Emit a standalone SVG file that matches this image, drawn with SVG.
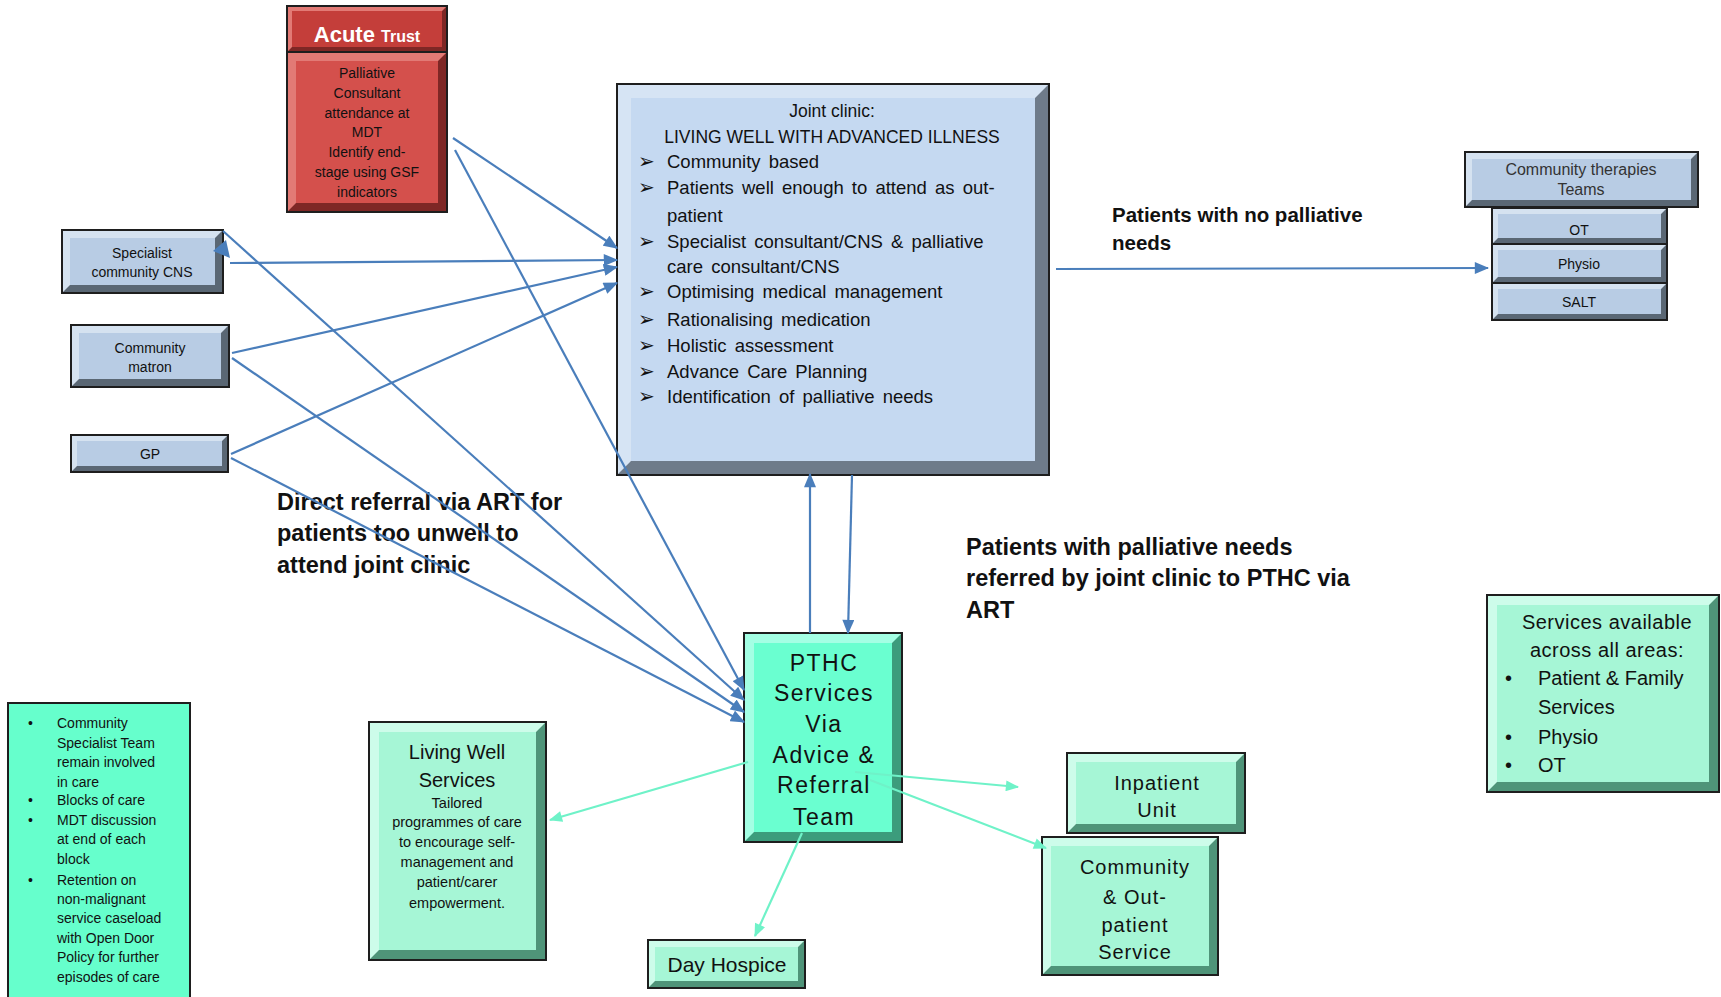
<svg xmlns="http://www.w3.org/2000/svg" width="1721" height="997" viewBox="0 0 1721 997">
<defs>
<style>
text{font-family:"Liberation Sans",Arial,sans-serif;fill:#111;}
.c{text-anchor:middle;}
.ol{fill:none;stroke:#1e1e1e;stroke-width:2;}
.bd{fill:#5A6774;} .bl{fill:#D5E2F0;} .bm{fill:#B8CCE4;}
.jd{fill:#6E7B8A;} .jl{fill:#D6E4F4;} .jm{fill:#C5D9F1;}
.rd{fill:#7E2725;} .rl{fill:#E27A75;} .rm{fill:#D4504C;} .rh{fill:#C43E3A;}
.gd{fill:#3C9C7C;} .gl{fill:#A4FFE4;} .gm{fill:#6AFFD0;}
.ld{fill:#4F9479;} .ll{fill:#CDFCEA;} .lm{fill:#A6F6D6;}
.bline{stroke:#4A7EBB;stroke-width:2.2;fill:none;marker-end:url(#ab);}
.gline{stroke:#6FF2C8;stroke-width:2.2;fill:none;marker-end:url(#ag);}
.big{font-weight:bold;font-size:23.5px;}
.bul{font-family:"DejaVu Sans",sans-serif;font-size:20px;}
</style>
<marker id="ab" viewBox="0 0 12 10" refX="11" refY="5" markerWidth="15" markerHeight="12" markerUnits="userSpaceOnUse" orient="auto"><path d="M0,0 L12,5 L0,10 z" fill="#4A7EBB"/></marker>
<marker id="ag" viewBox="0 0 12 10" refX="11" refY="5" markerWidth="14" markerHeight="11" markerUnits="userSpaceOnUse" orient="auto"><path d="M0,0 L12,5 L0,10 z" fill="#6FF2C8"/></marker>
</defs>
<rect width="1721" height="997" fill="#fff"/>

<g id="acute-trust">
<rect class="rd" x="287" y="6" width="160" height="46"/>
<polygon class="rl" points="287,6 447,6 442,11 292,11 292,47 287,52"/>
<rect class="rh" x="292" y="11" width="150" height="36"/>
<rect class="ol" x="287" y="6" width="160" height="46"/>
<text class="c" x="367" y="42" style="fill:#fff;font-weight:bold;font-size:22px">Acute <tspan style="font-size:16px">Trust</tspan></text>
<rect class="rd" x="287" y="52" width="160" height="160"/>
<polygon class="rl" points="287,52 447,52 438,61 296,61 296,203 287,212"/>
<rect class="rm" x="296" y="61" width="142" height="142"/>
<rect class="ol" x="287" y="52" width="160" height="160"/>
<text class="c" font-size="14" x="367" y="78">Palliative</text>
<text class="c" font-size="14" x="367" y="98">Consultant</text>
<text class="c" font-size="14" x="367" y="118">attendance at</text>
<text class="c" font-size="14" x="367" y="137">MDT</text>
<text class="c" font-size="14" x="367" y="157">Identify end-</text>
<text class="c" font-size="14" x="367" y="177">stage using GSF</text>
<text class="c" font-size="14" x="367" y="197">indicators</text>
</g>

<g id="specialist-cns">
<rect class="bd" x="62" y="230" width="161" height="63"/>
<polygon class="bl" points="62,230 223,230 215,238 70,238 70,285 62,293"/>
<rect class="bm" x="70" y="238" width="145" height="47"/>
<rect class="ol" x="62" y="230" width="161" height="63"/>
<text class="c" font-size="14" x="142" y="258">Specialist</text>
<text class="c" font-size="14" x="142" y="277">community CNS</text>
</g>

<g id="community-matron">
<rect class="bd" x="71" y="325" width="158" height="62"/>
<polygon class="bl" points="71,325 229,325 221,333 79,333 79,379 71,387"/>
<rect class="bm" x="79" y="333" width="142" height="46"/>
<rect class="ol" x="71" y="325" width="158" height="62"/>
<text class="c" font-size="14" x="150" y="353">Community</text>
<text class="c" font-size="14" x="150" y="372">matron</text>
</g>

<g id="gp">
<rect class="bd" x="71" y="435" width="157" height="37"/>
<polygon class="bl" points="71,435 228,435 222,441 77,441 77,466 71,472"/>
<rect class="bm" x="77" y="441" width="145" height="25"/>
<rect class="ol" x="71" y="435" width="157" height="37"/>
<text class="c" font-size="14" x="150" y="459">GP</text>
</g>

<g id="joint-clinic">
<rect class="jd" x="617" y="84" width="432" height="391"/>
<polygon class="jl" points="617,84 1049,84 1035,98 631,98 631,461 617,475"/>
<rect class="jm" x="631" y="98" width="404" height="363"/>
<rect class="ol" x="617" y="84" width="432" height="391"/>
<text class="c" font-size="17.5" x="832" y="117">Joint clinic:</text>
<text class="c" font-size="17.5" x="832" y="143">LIVING WELL WITH ADVANCED ILLNESS</text>
<g font-size="18.5" style="word-spacing:3px">
<text class="bul" x="638" y="168">➢</text><text x="667" y="168">Community based</text>
<text class="bul" x="638" y="194">➢</text><text x="667" y="194">Patients well enough to attend as out-</text>
<text x="667" y="222">patient</text>
<text class="bul" x="638" y="248">➢</text><text x="667" y="248">Specialist consultant/CNS  &amp; palliative</text>
<text x="667" y="273">care consultant/CNS</text>
<text class="bul" x="638" y="298">➢</text><text x="667" y="298">Optimising medical management</text>
<text class="bul" x="638" y="326">➢</text><text x="667" y="326">Rationalising medication</text>
<text class="bul" x="638" y="352">➢</text><text x="667" y="352">Holistic assessment</text>
<text class="bul" x="638" y="378">➢</text><text x="667" y="378">Advance Care Planning</text>
<text class="bul" x="638" y="403">➢</text><text x="667" y="403">Identification of palliative needs</text>
</g>
</g>

<g id="community-therapies">
<rect class="bd" x="1465" y="152" width="233" height="55"/>
<polygon class="bl" points="1465,152 1698,152 1691,159 1472,159 1472,200 1465,207"/>
<rect class="bm" x="1472" y="159" width="219" height="41"/>
<rect class="ol" x="1465" y="152" width="233" height="55"/>
<text class="c" font-size="16" x="1581" y="175" style="fill:#333">Community therapies</text>
<text class="c" font-size="16" x="1581" y="195" style="fill:#333">Teams</text>
<rect class="bd" x="1492" y="208" width="175" height="36"/>
<polygon class="bl" points="1492,208 1667,208 1661,214 1498,214 1498,238 1492,244"/>
<rect class="bm" x="1498" y="214" width="163" height="24"/>
<rect class="ol" x="1492" y="208" width="175" height="36"/>
<text class="c" font-size="14" x="1579" y="235">OT</text>
<rect class="bd" x="1492" y="244" width="175" height="39"/>
<polygon class="bl" points="1492,244 1667,244 1661,250 1498,250 1498,277 1492,283"/>
<rect class="bm" x="1498" y="250" width="163" height="27"/>
<rect class="ol" x="1492" y="244" width="175" height="39"/>
<text class="c" font-size="14" x="1579" y="269">Physio</text>
<rect class="bd" x="1492" y="283" width="175" height="37"/>
<polygon class="bl" points="1492,283 1667,283 1661,289 1498,289 1498,314 1492,320"/>
<rect class="bm" x="1498" y="289" width="163" height="25"/>
<rect class="ol" x="1492" y="283" width="175" height="37"/>
<text class="c" font-size="14" x="1579" y="307">SALT</text>
</g>

<g id="pthc">
<rect class="gd" x="744" y="633" width="158" height="209"/>
<polygon class="gl" points="744,633 902,633 892,643 754,643 754,832 744,842"/>
<rect class="gm" x="754" y="643" width="138" height="189"/>
<rect class="ol" x="744" y="633" width="158" height="209"/>
<g font-size="23" style="letter-spacing:1.5px">
<text class="c" x="824" y="671">PTHC</text>
<text class="c" x="824" y="701">Services</text>
<text class="c" x="824" y="732">Via</text>
<text class="c" x="824" y="763">Advice &amp;</text>
<text class="c" x="824" y="793">Referral</text>
<text class="c" x="824" y="825">Team</text>
</g>
</g>

<g id="living-well">
<rect class="ld" x="369" y="722" width="177" height="238"/>
<polygon class="ll" points="369,722 546,722 536,732 379,732 379,950 369,960"/>
<rect class="lm" x="379" y="732" width="157" height="218"/>
<rect class="ol" x="369" y="722" width="177" height="238"/>
<text class="c" font-size="20" x="457" y="759">Living Well</text>
<text class="c" font-size="20" x="457" y="787">Services</text>
<text class="c" font-size="14.5" x="457" y="808">Tailored</text>
<text class="c" font-size="14.5" x="457" y="827">programmes of care</text>
<text class="c" font-size="14.5" x="457" y="847">to encourage self-</text>
<text class="c" font-size="14.5" x="457" y="867">management and</text>
<text class="c" font-size="14.5" x="457" y="887">patient/carer</text>
<text class="c" font-size="14.5" x="457" y="908">empowerment.</text>
</g>

<g id="inpatient-unit">
<rect class="ld" x="1067" y="753" width="178" height="80"/>
<polygon class="ll" points="1067,753 1245,753 1236,762 1076,762 1076,824 1067,833"/>
<rect class="lm" x="1076" y="762" width="160" height="62"/>
<rect class="ol" x="1067" y="753" width="178" height="80"/>
<text class="c" font-size="20" x="1157" y="790" style="letter-spacing:1px">Inpatient</text>
<text class="c" font-size="20" x="1157" y="817" style="letter-spacing:1px">Unit</text>
</g>

<g id="community-outpatient">
<rect class="ld" x="1042" y="837" width="176" height="138"/>
<polygon class="ll" points="1042,837 1218,837 1209,846 1051,846 1051,966 1042,975"/>
<rect class="lm" x="1051" y="846" width="158" height="120"/>
<rect class="ol" x="1042" y="837" width="176" height="138"/>
<g font-size="20" style="letter-spacing:1px">
<text class="c" x="1135" y="874">Community</text>
<text class="c" x="1135" y="904">&amp; Out-</text>
<text class="c" x="1135" y="932">patient</text>
<text class="c" x="1135" y="959">Service</text>
</g>
</g>

<g id="services-available">
<rect class="ld" x="1487" y="595" width="232" height="197"/>
<polygon class="ll" points="1487,595 1719,595 1709,605 1497,605 1497,782 1487,792"/>
<rect class="lm" x="1497" y="605" width="212" height="177"/>
<rect class="ol" x="1487" y="595" width="232" height="197"/>
<g font-size="20">
<text class="c" x="1607" y="629" style="letter-spacing:0.5px">Services available</text>
<text class="c" x="1607" y="657" style="letter-spacing:0.5px">across all areas:</text>
<text x="1505" y="685">•</text><text x="1538" y="685">Patient &amp; Family</text>
<text x="1538" y="714">Services</text>
<text x="1505" y="744">•</text><text x="1538" y="744">Physio</text>
<text x="1505" y="772">•</text><text x="1538" y="772">OT</text>
</g>
</g>

<g id="specialist-team-notes">
<rect x="8" y="703" width="182" height="300" fill="#66FFCC" stroke="#1e1e1e" stroke-width="2"/>
<g font-size="14">
<text x="28" y="728">•</text><text x="57" y="728">Community</text>
<text x="57" y="748">Specialist Team</text>
<text x="57" y="767">remain involved</text>
<text x="57" y="787">in care</text>
<text x="28" y="805">•</text><text x="57" y="805">Blocks of care</text>
<text x="28" y="825">•</text><text x="57" y="825">MDT discussion</text>
<text x="57" y="844">at end of each</text>
<text x="57" y="864">block</text>
<text x="28" y="885">•</text><text x="57" y="885">Retention on</text>
<text x="57" y="904">non-malignant</text>
<text x="57" y="923">service caseload</text>
<text x="57" y="943">with Open Door</text>
<text x="57" y="962">Policy for further</text>
<text x="57" y="982">episodes of care</text>
</g>
</g>

<g id="day-hospice">
<rect class="ld" x="648" y="940" width="157" height="48"/>
<polygon class="ll" points="648,940 805,940 798,947 655,947 655,981 648,988"/>
<rect class="lm" x="655" y="947" width="143" height="34"/>
<rect class="ol" x="648" y="940" width="157" height="48"/>
<text class="c" font-size="21" x="727" y="972">Day Hospice</text>
</g>

<g id="labels">
<text class="big" x="277" y="510">Direct referral via ART for</text>
<text class="big" x="277" y="541">patients too unwell to</text>
<text class="big" x="277" y="573">attend joint clinic</text>
<text class="big" x="966" y="555">Patients with palliative needs</text>
<text class="big" x="966" y="586">referred by joint clinic to PTHC via</text>
<text class="big" x="966" y="618">ART</text>
<text x="1112" y="222" style="font-weight:bold;font-size:20.5px">Patients with no palliative</text>
<text x="1112" y="250" style="font-weight:bold;font-size:20.5px">needs</text>
</g>

<g id="connectors">
<line class="bline" x1="453" y1="138" x2="617" y2="248"/>
<line class="bline" x1="230" y1="263" x2="617" y2="260"/>
<line class="bline" x1="232" y1="353" x2="617" y2="267"/>
<line class="bline" x1="231" y1="454" x2="617" y2="283"/>
<line class="bline" x1="455" y1="150" x2="744" y2="690"/>
<line class="bline" x1="223" y1="231" x2="744" y2="700"/>
<line class="bline" x1="232" y1="358" x2="744" y2="712"/>
<line class="bline" x1="231" y1="458" x2="744" y2="722"/>
<polygon points="213,251 226,240 230,258" fill="#4A7EBB"/>
<line class="bline" x1="810" y1="633" x2="810" y2="474"/>
<line class="bline" x1="852" y1="475" x2="848" y2="633"/>
<line class="bline" x1="1056" y1="269" x2="1488" y2="268"/>
<line class="gline" x1="748" y1="762" x2="550" y2="820"/>
<line class="gline" x1="855" y1="772" x2="1018" y2="787"/>
<line class="gline" x1="870" y1="780" x2="1046" y2="848"/>
<line class="gline" x1="802" y1="833" x2="755" y2="936"/>
</g>
</svg>
